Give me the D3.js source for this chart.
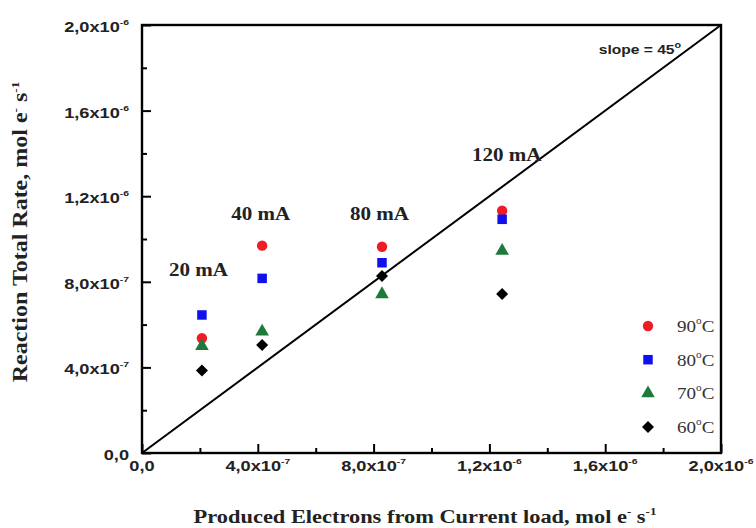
<!DOCTYPE html>
<html>
<head>
<meta charset="utf-8">
<script src="https://cdn.jsdelivr.net/npm/d3@7"></script>
<style>
  html, body { margin: 0; padding: 0; background: #fff; }
  svg { display: block; }
</style>
</head>
<body>
<svg id="chart" width="756" height="528"></svg>
<script>
// ---------- data ----------
const currents   = ["20 mA", "40 mA", "80 mA", "120 mA"];
const electrons  = [2.07e-7, 4.15e-7, 8.29e-7, 1.244e-6];   // x values
const rate90     = [5.36e-7, 9.69e-7, 9.64e-7, 1.132e-6];
const rate80     = [6.45e-7, 8.16e-7, 8.89e-7, 1.092e-6];
const rate70     = [5.00e-7, 5.67e-7, 7.42e-7, 9.45e-7];
const rate60     = [3.85e-7, 5.05e-7, 8.27e-7, 7.43e-7];
const labelX     = [1.95e-7, 4.10e-7, 8.20e-7, 1.26e-6];   // x position of current labels
const labelRate  = [8.55e-7, 1.117e-6, 1.117e-6, 1.393e-6];  // y position of current labels
const seriesNames = ["90", "80", "70", "60"];
const tickValues  = [0, 4e-7, 8e-7, 1.2e-6, 1.6e-6, 2.0e-6];
const tickMantissa = ["0,0", "4,0x10", "8,0x10", "1,2x10", "1,6x10", "2,0x10"];
const tickExponent = ["", "-7", "-7", "-6", "-6", "-6"];
const minorTicks  = [2e-7, 6e-7, 1.0e-6, 1.4e-6, 1.8e-6];
const slopeLine   = [[0, 0], [2e-6, 2e-6]];
const slopeLabelPos = [1.72e-6, 1.888e-6];

// ---------- layout ----------
const svg = d3.select("#chart");
const L = 142, R = 721, T = 25, B = 453;
const x = d3.scaleLinear().domain([0, 2e-6]).range([L, R]);
const y = d3.scaleLinear().domain([0, 2e-6]).range([B, T]);

const SANS = "'Liberation Sans', Arial, sans-serif";
const SERIF = "'Liberation Serif', 'Times New Roman', serif";

function stretchedText(parent, px, py, sx, anchor) {
  const g = parent.append("g").attr("transform", `translate(${px},${py}) scale(${sx},1)`);
  return g.append("text").attr("text-anchor", anchor || "middle");
}

// ---------- axes ----------
const tickFmt = () => "";
function styleAxis(g) {
  g.select(".domain").remove();
  g.selectAll("line").attr("stroke", "#000").attr("stroke-width", 2);
}
svg.append("g").attr("transform", `translate(0,${B})`)
  .call(d3.axisBottom(x).tickValues(tickValues).tickSizeInner(-9).tickSizeOuter(0).tickFormat(tickFmt))
  .call(styleAxis);
svg.append("g").attr("transform", `translate(0,${B})`)
  .call(d3.axisBottom(x).tickValues(minorTicks).tickSizeInner(-5).tickSizeOuter(0).tickFormat(tickFmt))
  .call(styleAxis);
svg.append("g").attr("transform", `translate(${L},0)`)
  .call(d3.axisLeft(y).tickValues(tickValues).tickSizeInner(-9).tickSizeOuter(0).tickFormat(tickFmt))
  .call(styleAxis);
svg.append("g").attr("transform", `translate(${L},0)`)
  .call(d3.axisLeft(y).tickValues(minorTicks).tickSizeInner(-5).tickSizeOuter(0).tickFormat(tickFmt))
  .call(styleAxis);

// frame
svg.append("rect").attr("x", L).attr("y", T).attr("width", R - L).attr("height", B - T)
  .attr("fill", "none").attr("stroke", "#000").attr("stroke-width", 2.4);

// tick labels
function tickLabel(px, py, i, anchor) {
  const t = stretchedText(svg, px, py, 1.3, anchor)
    .attr("font-family", SANS).attr("font-weight", "bold").attr("font-size", 14).attr("fill", "#222");
  t.append("tspan").text(tickMantissa[i]);
  if (tickExponent[i]) {
    t.append("tspan").attr("dy", -7).attr("font-size", 8).text(tickExponent[i]);
  }
  return t;
}
tickValues.forEach((v, i) => {
  tickLabel(x(v), B + 18, i, "middle");
  tickLabel(L - 13, y(v) + 7, i, "end");
});

// slope line
svg.append("path").datum(slopeLine)
  .attr("d", d3.line().x(d => x(d[0])).y(d => y(d[1])))
  .attr("stroke", "#000").attr("stroke-width", 2).attr("fill", "none");

// slope label
{
  const t = stretchedText(svg, x(slopeLabelPos[0]), y(slopeLabelPos[1]) + 5, 1.2, "middle")
    .attr("font-family", SANS).attr("font-weight", "bold").attr("font-size", 13).attr("fill", "#222");
  t.append("tspan").text("slope = 45");
  t.append("tspan").attr("dy", -6).attr("font-size", 9).text("o");
}

// current labels
currents.forEach((c, i) => {
  stretchedText(svg, x(labelX[i]), y(labelRate[i]) + 6, 1.17, "middle")
    .attr("font-family", SERIF).attr("font-weight", "bold").attr("font-size", 18).attr("fill", "#222")
    .text(c);
});

// ---------- markers ----------
const colors = ["#ee1c25", "#1010ee", "#1e7a3a", "#000000"];
const symbols = [d3.symbolCircle, d3.symbolSquare, d3.symbolTriangle, d3.symbolSquare];
const sizes = [85, 90, 80, 72];
const rotations = [0, 0, 0, 45];
const allSeries = [rate90, rate80, rate70, rate60];

allSeries.forEach((s, k) => {
  svg.append("g").selectAll("path").data(s).join("path")
    .attr("transform", (d, i) => `translate(${x(electrons[i])},${y(d)}) rotate(${rotations[k]})`)
    .attr("d", d3.symbol().type(symbols[k]).size(sizes[k]))
    .attr("fill", colors[k]);
});

// ---------- legend ----------
seriesNames.forEach((n, k) => {
  const ly = 326 + k * 33.7;
  svg.append("path").attr("transform", `translate(648,${ly}) rotate(${rotations[k]})`)
    .attr("d", d3.symbol().type(symbols[k]).size(sizes[k])).attr("fill", colors[k]);
  const t = stretchedText(svg, 677, ly + 6, 1.12, "start")
    .attr("font-family", SERIF).attr("font-size", 17).attr("fill", "#333");
  t.append("tspan").text(n);
  t.append("tspan").attr("dy", -8).attr("font-size", 10).text("o");
  t.append("tspan").attr("dy", 8).text("C");
});

// ---------- axis titles ----------
{
  const t = stretchedText(svg, 425, 523, 1.18, "middle")
    .attr("font-family", SERIF).attr("font-weight", "bold").attr("font-size", 19).attr("fill", "#222");
  t.append("tspan").text("Produced Electrons from Current load, mol e");
  t.append("tspan").attr("dy", -8).attr("font-size", 11).text("-");
  t.append("tspan").attr("dy", 8).text(" s");
  t.append("tspan").attr("dy", -8).attr("font-size", 11).text("-1");
}
{
  const g = svg.append("g").attr("transform", `translate(27,232) rotate(-90) scale(1.2,1)`);
  const t = g.append("text").attr("text-anchor", "middle")
    .attr("font-family", SERIF).attr("font-weight", "bold").attr("font-size", 20).attr("fill", "#222");
  t.append("tspan").text("Reaction Total Rate, mol e");
  t.append("tspan").attr("dy", -8).attr("font-size", 11).text("-");
  t.append("tspan").attr("dy", 8).text(" s");
  t.append("tspan").attr("dy", -8).attr("font-size", 11).text("-1");
}
</script>
</body>
</html>
